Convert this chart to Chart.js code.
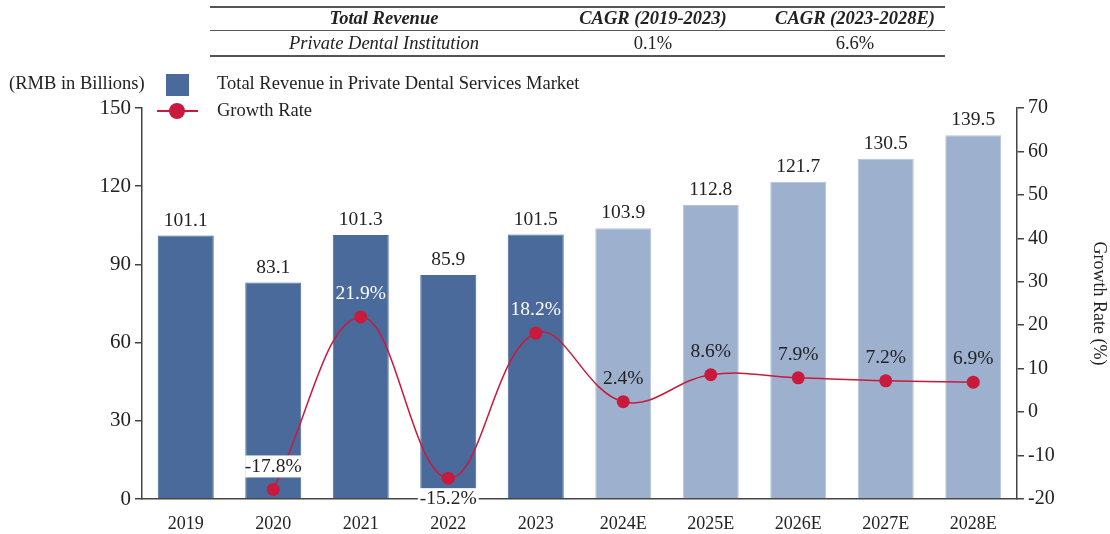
<!DOCTYPE html>
<html>
<head>
<meta charset="utf-8">
<script src="https://cdn.jsdelivr.net/npm/chart.js@4.4.0/dist/chart.umd.min.js"></script>
<style>
  html, body { margin: 0; padding: 0; background: #fff; }
  #wrap { width: 1110px; height: 534px; position: relative; }
</style>
</head>
<body>
<div id="wrap"><canvas id="chart" width="1110" height="534"></canvas></div>
<script>
var years = ['2019', '2020', '2021', '2022', '2023', '2024E', '2025E', '2026E', '2027E', '2028E'];
var revenue = [101.1, 83.1, 101.3, 85.9, 101.5, 103.9, 112.8, 121.7, 130.5, 139.5];
var growth = [null, -17.8, 21.9, -15.2, 18.2, 2.4, 8.6, 7.9, 7.2, 6.9];
var leftTicks = [0, 30, 60, 90, 120, 150];
var rightTicks = [-20, -10, 0, 10, 20, 30, 40, 50, 60, 70];
var tableHead = ['Total Revenue', 'CAGR (2019-2023)', 'CAGR (2023-2028E)'];
var tableRow = ['Private Dental Institution', '0.1%', '6.6%'];

var serif = '"Liberation Serif", "DejaVu Serif", serif';
var darkBlue = '#4a6a9b';
var lightBlue = '#9db1cf';
var red = '#c81a3d';
var textColor = '#222';

var barColors = years.map(function (y) { return y.indexOf('E') > 0 ? lightBlue : darkBlue; });

// labels on the line: white ones sit on dark bars, some get a white box
var growthStyle = {
  1: { pos: 'above', color: textColor, box: true },
  2: { pos: 'above', color: '#fff' },
  3: { pos: 'below', color: textColor, box: true },
  4: { pos: 'above', color: '#fff' }
};

var extras = {
  id: 'extras',
  afterDatasetsDraw: function (chart) {
    var ctx = chart.ctx;
    var barMeta = chart.getDatasetMeta(1);
    var lineMeta = chart.getDatasetMeta(0);
    ctx.save();
    ctx.textAlign = 'center';
    ctx.textBaseline = 'middle';
    ctx.font = '19.5px ' + serif;

    // bar values
    barMeta.data.forEach(function (bar, i) {
      ctx.fillStyle = textColor;
      ctx.fillText(revenue[i].toFixed(1), bar.x, bar.y - 15);
    });

    // growth values
    lineMeta.data.forEach(function (pt, i) {
      if (growth[i] === null) return;
      var s = growthStyle[i] || { pos: 'above', color: textColor };
      var txt = growth[i].toFixed(1) + '%';
      var y = s.pos === 'above' ? pt.y - 23 : pt.y + 21;
      if (s.box) {
        var w = ctx.measureText(txt).width + 4;
        if (i === 1) w = barMeta.data[i].width;
        ctx.fillStyle = '#fff';
        ctx.fillRect(pt.x - w / 2, y - 11, w, 22);
      }
      ctx.fillStyle = s.color;
      ctx.fillText(txt, pt.x, y);
    });
    ctx.restore();
  },
  afterDraw: function (chart) {
    var ctx = chart.ctx;
    ctx.save();
    // table on top
    ctx.strokeStyle = '#555';
    ctx.lineWidth = 2;
    ctx.beginPath(); ctx.moveTo(210, 7); ctx.lineTo(945, 7); ctx.stroke();
    ctx.beginPath(); ctx.moveTo(210, 56); ctx.lineTo(945, 56); ctx.stroke();
    ctx.lineWidth = 1;
    ctx.beginPath(); ctx.moveTo(210, 30.5); ctx.lineTo(945, 30.5); ctx.stroke();
    var cols = [384, 653, 855];
    ctx.fillStyle = textColor;
    ctx.textAlign = 'center';
    ctx.textBaseline = 'middle';
    tableHead.forEach(function (t, i) {
      ctx.font = 'italic bold 18.5px ' + serif;
      ctx.fillText(t, cols[i], 19);
    });
    tableRow.forEach(function (t, i) {
      ctx.font = (i === 0 ? 'italic ' : '') + '18.5px ' + serif;
      ctx.fillText(t, cols[i], 44);
    });

    // unit and legend
    ctx.font = '18.5px ' + serif;
    ctx.textAlign = 'left';
    ctx.fillText('(RMB in Billions)', 9, 84);
    ctx.fillStyle = darkBlue;
    ctx.fillRect(166, 74, 23, 22);
    ctx.fillStyle = textColor;
    ctx.fillText('Total Revenue in Private Dental Services Market', 217, 84);
    ctx.strokeStyle = red;
    ctx.lineWidth = 2;
    ctx.beginPath(); ctx.moveTo(157, 111); ctx.lineTo(198, 111); ctx.stroke();
    ctx.fillStyle = red;
    ctx.beginPath(); ctx.arc(177, 111, 8, 0, Math.PI * 2); ctx.fill();
    ctx.fillStyle = textColor;
    ctx.fillText('Growth Rate', 217, 111);
    ctx.restore();
  }
};

var ctx = document.getElementById('chart').getContext('2d');
var myChart = new Chart(ctx, {
  type: 'bar',
  data: {
    labels: years,
    datasets: [{
      type: 'line',
      label: 'Growth Rate',
      data: growth,
      yAxisID: 'y1',
      borderColor: red,
      backgroundColor: red,
      borderWidth: 1.5,
      pointRadius: 6.5,
      pointBorderWidth: 0,
      cubicInterpolationMode: 'default',
      tension: 0.4,
      order: 0
    }, {
      label: 'Total Revenue in Private Dental Services Market',
      data: revenue,
      yAxisID: 'y',
      backgroundColor: barColors,
      borderColor: barColors.map(function (c) { return c === lightBlue ? '#b4c4dc' : c; }),
      borderWidth: 1,
      barPercentage: 0.64,
      categoryPercentage: 1,
      order: 1
    }]
  },
  options: {
    responsive: false,
    animation: false,
    layout: { padding: { top: 108, left: 0, right: 0, bottom: 0 } },
    plugins: {
      legend: { display: false },
      tooltip: { enabled: false }
    },
    scales: {
      x: {
        grid: { display: false },
        border: { display: true, color: '#444', width: 1.5 },
        ticks: { color: textColor, font: { family: serif, size: 18 }, padding: 6 },
        afterFit: function (s) { s.height = 35; }
      },
      y: {
        position: 'left',
        min: 0,
        max: 150,
        afterBuildTicks: function (s) { s.ticks = leftTicks.map(function (v) { return { value: v }; }); },
        grid: { drawOnChartArea: false, tickLength: 7, color: '#444', lineWidth: 1.5 },
        border: { display: true, color: '#444', width: 1.5 },
        ticks: { color: textColor, font: { family: serif, size: 21 }, padding: 4 },
        afterFit: function (s) { s.width = 142; }
      },
      y1: {
        position: 'right',
        min: -20,
        max: 70,
        afterBuildTicks: function (s) { s.ticks = rightTicks.map(function (v) { return { value: v }; }); },
        grid: { drawOnChartArea: false, tickLength: 7, color: '#444', lineWidth: 1.5 },
        border: { display: true, color: '#444', width: 1.5 },
        ticks: { color: textColor, font: { family: serif, size: 20 }, padding: 4 },
        title: { display: true, text: 'Growth Rate (%)', color: textColor, font: { family: serif, size: 18 }, padding: { top: 0, bottom: 4 } },
        afterFit: function (s) { s.width = 93; }
      }
    }
  },
  plugins: [extras]
});
</script>
</body>
</html>
